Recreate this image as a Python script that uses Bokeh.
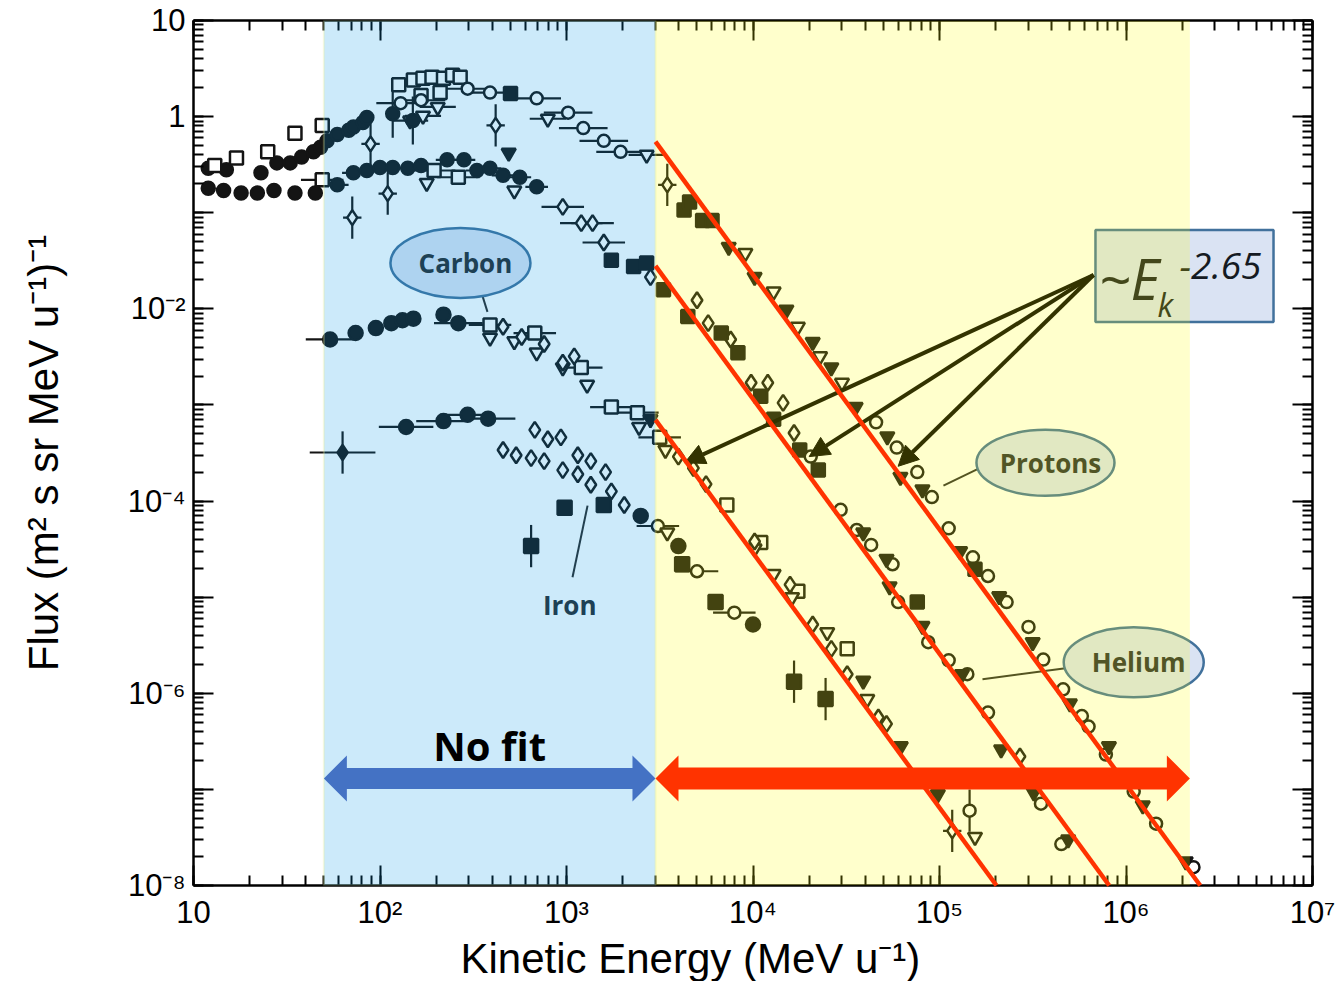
import math

from bokeh.core.properties import value
from bokeh.embed import file_html
from bokeh.models import (Arrow, BoxAnnotation, CustomJSTickFormatter, LogAxis, LogTicker,
                          NormalHead, Title)
from bokeh.plotting import figure
from bokeh.resources import INLINE

# ---------------------------------------------------------------- axis ranges
E_MIN, E_MAX = 10, 1e7            # kinetic energy, MeV/u
FLUX_MIN, FLUX_MAX = 1e-8, 10     # flux, (m^2 s sr MeV/u)^-1

# energy bands
FIT_LOW = 50        # start of the band without a power-law fit
FIT_SPLIT = 3.0e3   # start of the power-law band
FIT_HIGH = 2.2e6    # end of the power-law band

# power-law fits F = norm * (E / FIT_E0) ** SPECTRAL_INDEX
SPECTRAL_INDEX = -2.65
FIT_E0 = 3.0e3
FIT_NORM = [0.55, 0.028, 7.0e-4]   # protons, helium, carbon

# ---------------------------------------------------------------- protons
P_FC_E = [12, 15, 23, 28, 33, 38, 44, 48, 52, 59, 68, 72, 81, 85]
P_FC_F = [0.29, 0.28, 0.26, 0.33, 0.33, 0.38, 0.43, 0.48, 0.56, 0.65, 0.72, 0.78, 0.87, 0.98]
P_OS_E = [13, 17, 25, 35, 49, 126, 151, 166, 170, 190, 210, 219, 245, 269]
P_OS_F = [0.31, 0.37, 0.43, 0.67, 0.81, 2.14, 2.40, 1.66, 2.51, 2.57, 1.78, 2.51, 2.69, 2.57]
P_OC_LO_E = [129, 166, 295, 389, 692, 1020, 1230, 1585, 1950]
P_OC_LO_F = [1.38, 1.48, 1.95, 1.78, 1.55, 1.10, 0.76, 0.56, 0.43]
P_OC_HI_E = [4.57e4, 5.9e4, 7.6e4, 9.1e4, 1.12e5, 1.51e5, 1.82e5, 2.29e5, 3.0e5, 3.6e5,
             4.6e5, 5.8e5, 6.3e5, 7.8e5, 1.10e6, 1.45e6, 2.3e6]
P_OC_HI_F = [6.6e-4, 3.6e-4, 2.0e-4, 1.10e-4, 5.2e-5, 2.6e-5, 1.66e-5, 8.9e-6, 4.9e-6, 2.24e-6,
             1.10e-6, 5.8e-7, 4.5e-7, 2.3e-7, 9.5e-8, 4.4e-8, 1.55e-8]
P_FS_E = [501, 4270, 4570, 5370, 6030, 1.55e5]
P_FS_F = [1.74, 0.107, 0.129, 0.083, 0.083, 1.95e-5]
P_FT_E = [490, 7410, 1.02e4, 1.51e4, 2.09e4, 2.63e4, 3.55e4, 5.25e4, 6.17e4, 8.1e4, 1.29e5,
          2.09e5, 3.16e5, 5.0e5, 8.1e5, 1.23e6, 2.09e6]
P_FT_F = [0.42, 0.044, 0.0214, 0.0098, 0.0045, 0.00245, 9.5e-4, 4.7e-4, 1.78e-4, 1.32e-4, 3.0e-5,
          1.02e-5, 3.4e-6, 7.8e-7, 2.8e-7, 6.8e-8, 1.78e-8]
P_OT_E = [145, 170, 204, 794, 2690, 9100, 1.29e4, 1.74e4, 2.29e4, 3.0e4]
P_OT_F = [0.91, 1.02, 1.26, 0.95, 0.40, 0.038, 0.0151, 0.0065, 0.0032, 0.0017]
P_ERR_E = [117, 150]
P_ERR_F = [1.07, 0.91]
P_CD_E = [417, 3470]
P_CD_F = [0.81, 0.195]

# ---------------------------------------------------------------- helium
H_FC_E = [12, 14.5, 18, 22, 27, 35, 45, 59, 72, 85, 100, 117, 141, 166, 229, 282, 331, 389,
          457, 562, 692]
H_FC_F = [0.18, 0.17, 0.16, 0.16, 0.17, 0.16, 0.16, 0.195, 0.26, 0.275, 0.295, 0.295, 0.29,
          0.31, 0.355, 0.355, 0.275, 0.29, 0.245, 0.234, 0.186]
H_OS_E = [49, 195, 263]
H_OS_F = [0.22, 0.275, 0.234]
H_OT_E = [178, 525]
H_OT_F = [0.204, 0.17]
H_OD_E = [955, 1200, 1380, 1585, 2820, 5010, 5750, 7590, 9770, 1.20e4, 1.45e4, 1.66e4, 2.7e5]
H_OD_F = [0.115, 0.078, 0.078, 0.049, 0.0214, 0.0123, 0.0071, 0.0048, 0.0017, 0.0017,
          0.00105, 5.1e-4, 2.2e-7]
H_FS_E = [1740, 2290, 2690, 3310, 4470, 6760, 8300, 1.10e4, 1.29e4, 1.78e4, 2.24e4, 7.6e4]
H_FS_F = [0.032, 0.0275, 0.030, 0.0158, 0.0083, 0.0056, 0.0035, 0.00123, 7.1e-4, 3.4e-4,
          2.1e-4, 8.9e-6]
H_OC_E = [2.04e4, 2.95e4, 3.6e4, 4.3e4, 5.6e4, 6.0e4, 8.7e4, 1.12e5, 1.41e5, 1.82e5, 3.5e5, 4.5e5]
H_OC_F = [2.9e-4, 8.1e-5, 5.0e-5, 3.5e-5, 2.2e-5, 8.9e-6, 3.4e-6, 2.2e-6, 1.58e-6, 6.3e-7,
          7.1e-8, 2.7e-8]
H_FT_E = [3.9e4, 5.2e4, 5.4e4, 8.1e4, 1.32e5, 2.14e5, 3.2e5, 4.9e5]
H_FT_F = [4.7e-5, 2.5e-5, 1.29e-5, 5.0e-6, 1.58e-6, 2.6e-7, 9.3e-8, 3.0e-8]
H_CD_E = [71, 89, 110]
H_CD_F = [0.089, 0.52, 0.158]

# ---------------------------------------------------------------- carbon
C_FC_E = [54, 74, 95, 115, 132, 151, 219, 263]
C_FC_F = [0.0048, 0.0056, 0.0063, 0.0071, 0.0076, 0.0079, 0.0087, 0.0071]
C_OS_E = [389, 676, 1200, 1740, 2400, 3160, 7240, 1.10e4, 1.74e4, 3.2e4]
C_OS_F = [0.0068, 0.0056, 0.00245, 9.5e-4, 8.3e-4, 4.6e-4, 9.1e-5, 3.7e-5, 1.15e-5, 2.9e-6]
C_OT_E = [389, 525, 692, 955, 1290, 2450, 3390, 1.02e4, 1.29e4, 1.62e4, 2.5e4, 4.1e4, 1.55e5]
C_OT_F = [0.0050, 0.0046, 0.0035, 0.00245, 0.00162, 5.9e-4, 3.4e-4, 3.2e-5, 1.74e-5, 1.0e-5,
          4.3e-6, 8.7e-7, 3.2e-8]
C_OD_E = [457, 575, 759, 955, 1100, 3980, 4790, 5600, 1.02e4, 1.58e4, 2.09e4, 2.63e4, 3.2e4,
          4.7e4, 5.2e4]
C_OD_F = [0.0065, 0.0051, 0.0043, 0.00275, 0.0032, 2.9e-4, 2.2e-4, 1.5e-4, 3.8e-5, 1.35e-5,
          5.2e-6, 2.9e-6, 1.58e-6, 5.6e-7, 4.8e-7]
C_FT_E = [2820, 3.9e4, 6.2e4, 9.8e4]
C_FT_F = [7.1e-4, 1.35e-6, 2.8e-7, 8.9e-8]
C_OC_E = [1.45e5]
C_OC_F = [6.0e-8]
C_CD_E = [1.17e5]
C_CD_F = [3.7e-8]

# ---------------------------------------------------------------- iron
I_FC_E = [138, 219, 295, 380, 2500, 3980, 1.0e4]
I_FC_F = [5.9e-4, 6.8e-4, 7.9e-4, 7.2e-4, 7.0e-5, 3.4e-5, 5.2e-6]
I_OD_E = [457, 537, 646, 676, 759, 794, 933, 955, 1150, 1150, 1350, 1350, 1620, 1740, 2040]
I_OD_F = [3.4e-4, 3.0e-4, 2.8e-4, 5.5e-4, 2.6e-4, 4.4e-4, 4.6e-4, 2.1e-4, 3.0e-4, 1.9e-4,
          2.6e-4, 1.48e-4, 2.0e-4, 1.26e-4, 9.1e-5]
I_FS_E = [977, 1585, 4170, 6300]
I_FS_F = [8.5e-5, 9.1e-5, 2.2e-5, 8.9e-6]
I_FSERR_E = [646, 1.66e4, 2.45e4]
I_FSERR_F = [3.4e-5, 1.32e-6, 8.7e-7]
I_OC_E = [3090, 5010, 7940]
I_OC_F = [5.5e-5, 1.86e-5, 6.9e-6]
I_OT_E = [3470]
I_OT_F = [4.7e-5]
I_CD_E = [63]
I_CD_F = [3.2e-4]

# ---------------------------------------------------------------- tick labels
X_TICK_VALUES = [1e1, 1e2, 1e3, 1e4, 1e5, 1e6, 1e7]
X_TICK_LABELS = ["10", "10\u00b2", "10\u00b3", "10\u2074", "10\u2075", "10\u2076", "10\u2077"]
Y_TICK_VALUES = [1e1, 1e0, 1e-2, 1e-4, 1e-6, 1e-8]
Y_TICK_LABELS = ["10", "1", "10\u207b\u00b2", "10\u207b\u2074", "10\u207b\u2076", "10\u207b\u2078"]

X_TITLE = "Kinetic Energy (MeV u\u207b\u00b9)"
Y_TITLE = "Flux (m\u00b2 s sr MeV u\u207b\u00b9)\u207b\u00b9"

# ---------------------------------------------------------------- layout
W, H = 1340, 981
B_LEFT, B_RIGHT, B_TOP, B_BOTTOM = 193, 28, 20, 96
PX_X = (W - B_LEFT - B_RIGHT) / math.log10(E_MAX / E_MIN)       # px per decade
PX_Y = (H - B_TOP - B_BOTTOM) / math.log10(FLUX_MAX / FLUX_MIN)

AXIS_FONT = "Liberation Sans"
INK = "#141414"
RED = "#ff3300"
BLUE = "#4472c4"
SHAPE_FILL = "#dae3f3"
SHAPE_LINE = "#41719c"
NOTE_TEXT = "#262b30"

p = figure(width=W, height=H, x_axis_type="log", y_axis_type="log",
           x_range=(E_MIN, E_MAX), y_range=(FLUX_MIN, FLUX_MAX),
           output_backend="svg", toolbar_location=None,
           min_border_left=B_LEFT, min_border_right=B_RIGHT,
           min_border_top=B_TOP, min_border_bottom=B_BOTTOM,
           background_fill_color="white", border_fill_color="white")
p.xgrid.visible = False
p.ygrid.visible = False
p.outline_line_color = None

p.add_layout(LogAxis(), "above")
p.add_layout(LogAxis(), "right")


def decade_labels(values, labels):
    exps = [round(math.log10(v)) for v in values]
    return CustomJSTickFormatter(args=dict(exps=exps, labels=labels), code="""
        const i = exps.indexOf(Math.round(Math.log10(tick)));
        return i >= 0 ? labels[i] : "";
    """)


for ax in p.xaxis + p.yaxis:
    ax.ticker = LogTicker(num_minor_ticks=10)
    ax.axis_line_color = "black"
    ax.axis_line_width = 2.5
    ax.major_tick_in = 20
    ax.major_tick_out = 0
    ax.minor_tick_in = 10
    ax.minor_tick_out = 0
    ax.major_tick_line_width = 2
    ax.minor_tick_line_width = 2
    ax.major_tick_line_color = "black"
    ax.minor_tick_line_color = "black"
    ax.major_label_text_font = AXIS_FONT
    ax.major_label_text_font_size = "31px"
    ax.major_label_text_color = "black"
    ax.formatter = CustomJSTickFormatter(code="return ''")

for ax in p.above + p.right:
    ax.major_label_text_font_size = "0px"

xax, yax = p.below[0], p.left[0]
xax.formatter = decade_labels(X_TICK_VALUES, X_TICK_LABELS)
xax.major_label_standoff = 9
yax.formatter = decade_labels(Y_TICK_VALUES, Y_TICK_LABELS)
yax.major_label_standoff = 8
yax.axis_label = Y_TITLE
yax.axis_label_text_font = AXIS_FONT
yax.axis_label_text_font_size = "42px"
yax.axis_label_text_font_style = "normal"
yax.axis_label_text_color = "black"
yax.axis_label_standoff = 58

p.add_layout(Title(text=X_TITLE, align="left", offset=267, standoff=0,
                   text_font=AXIS_FONT, text_font_size="42px", text_font_style="normal",
                   text_color="black"), "below")

# ---------------------------------------------------------------- data points
HBAR = 1.3          # half-width factor of energy-bin bars
VBAR = 10 ** 0.22   # half-height factor of flux error bars


def hbars(E, F, k=HBAR):
    p.segment(x0=[e / k for e in E], y0=F, x1=[e * k for e in E], y1=F,
              line_color=INK, line_width=2.2)


def vbars(E, F, k=VBAR):
    p.segment(x0=E, y0=[f / k for f in F], x1=E, y1=[f * k for f in F],
              line_color=INK, line_width=2.2)


def points(E, F, marker, filled, size=13):
    p.scatter(x=E, y=F, marker=marker, size=size,
              fill_color=INK if filled else "white", line_color=INK, line_width=2.5)


# energy-bin bars and error bars
hbars(P_OC_LO_E, P_OC_LO_F, 1.35)
hbars(P_OT_E[:5], P_OT_F[:5], 1.25)
hbars(H_OS_E, H_OS_F)
hbars(H_FC_E[7:], H_FC_F[7:], 1.15)
hbars(H_OD_E[:4], H_OD_F[:4], 1.3)
hbars(C_FC_E[:1] + C_FC_E[-1:], C_FC_F[:1] + C_FC_F[-1:], 1.35)
hbars(C_OS_E[:6], C_OS_F[:6], 1.3)
hbars(I_FC_E[:4], I_FC_F[:4], 1.4)
hbars(I_CD_E, I_CD_F, 1.5)
hbars(I_OC_E, I_OC_F, 1.3)
hbars(P_CD_E + H_CD_E + C_CD_E, P_CD_F + H_CD_F + C_CD_F, 1.12)
vbars(P_CD_E + H_CD_E + C_CD_E + I_CD_E, P_CD_F + H_CD_F + C_CD_F + I_CD_F)
vbars(P_ERR_E, P_ERR_F, 10 ** 0.25)
vbars(I_FSERR_E, I_FSERR_F, 10 ** 0.22)
vbars(C_OC_E, C_OC_F, 10 ** 0.22)

# protons
points(P_FC_E, P_FC_F, "circle", True)
points(P_OS_E, P_OS_F, "square", False)
points(P_OC_LO_E + P_OC_HI_E, P_OC_LO_F + P_OC_HI_F, "circle", False, 12)
points(P_FS_E, P_FS_F, "square", True)
points(P_FT_E, P_FT_F, "inverted_triangle", True, 14)
points(P_OT_E, P_OT_F, "inverted_triangle", False, 14)
points(P_ERR_E, P_ERR_F, "circle", True)
points(P_CD_E, P_CD_F, "diamond", False, 15)
# helium
points(H_FC_E, H_FC_F, "circle", True)
points(H_OS_E, H_OS_F, "square", False)
points(H_OT_E, H_OT_F, "inverted_triangle", False, 14)
points(H_OD_E, H_OD_F, "diamond", False, 16)
points(H_FS_E, H_FS_F, "square", True)
points(H_OC_E, H_OC_F, "circle", False, 12)
points(H_FT_E, H_FT_F, "inverted_triangle", True, 14)
points(H_CD_E, H_CD_F, "diamond", False, 15)
# carbon
points(C_FC_E, C_FC_F, "circle", True, 14)
points(C_OS_E, C_OS_F, "square", False)
points(C_OT_E, C_OT_F, "inverted_triangle", False, 14)
points(C_OD_E, C_OD_F, "diamond", False, 16)
points(C_FT_E, C_FT_F, "inverted_triangle", True, 14)
points(C_OC_E, C_OC_F, "circle", False, 12)
points(C_CD_E, C_CD_F, "diamond", False, 15)
# iron
points(I_FC_E, I_FC_F, "circle", True, 14)
points(I_OD_E, I_OD_F, "diamond", False, 16)
points(I_FS_E, I_FS_F, "square", True, 14)
points(I_FSERR_E, I_FSERR_F, "square", True, 14)
points(I_OC_E, I_OC_F, "circle", False, 12)
points(I_OT_E, I_OT_F, "inverted_triangle", False, 14)
points(I_CD_E, I_CD_F, "diamond", True, 15)


# ---------------------------------------------------------------- species call-outs
def note(x, y, txt, size, color=NOTE_TEXT, style="bold", align="center",
         baseline="middle", xo=0, yo=0, font="Open Sans", level="glyph"):
    p.text(x=[x], y=[y], text=[txt], text_font=value(font), text_font_size=f"{size}px",
           text_font_style=style, text_color=color, text_align=align,
           text_baseline=baseline, x_offset=xo, y_offset=yo, level=level)


CALLOUTS = [  # name, ellipse centre (E, F), ellipse px size, pointer from, pointer to
    ("Carbon", (270, 0.030), (140, 70), (337, 0.0186), (377, 0.0093)),
    ("Protons", (3.7e5, 2.5e-4), (138, 66), (1.62e5, 2.18e-4), (1.05e5, 1.45e-4)),
    ("Helium", (1.10e6, 2.1e-6), (140, 70), (4.74e5, 1.82e-6), (1.70e5, 1.40e-6)),
]
for name, (ex, ey), (ew, eh), (ax0, ay0), (ax1, ay1) in CALLOUTS:
    p.segment(x0=[ax0], y0=[ay0], x1=[ax1], y1=[ay1], line_color="#2a2a2a", line_width=2)
    p.ellipse(x=[ex], y=[ey], width=ew, height=eh, width_units="screen",
              height_units="screen", fill_color=SHAPE_FILL, line_color=SHAPE_LINE,
              line_width=2.5)
    note(ex, ey, name, 26, xo=5)

IRON_AT = (1040, 8.2e-6)
p.segment(x0=[1077], y0=[1.61e-5], x1=[1297], y1=[8.97e-5], line_color="#2a2a2a", line_width=2)
note(IRON_AT[0], IRON_AT[1], "Iron", 26)

# power-law label box
BOX_L, BOX_R, BOX_T, BOX_B = 6.86e5, 6.18e6, 0.066, 0.0073
p.quad(left=[BOX_L], right=[BOX_R], top=[BOX_T], bottom=[BOX_B],
       fill_color=SHAPE_FILL, line_color=SHAPE_LINE, line_width=2.5)
BOX_MID = math.sqrt(BOX_T * BOX_B)
note(BOX_L, BOX_MID, "~E", 56, color="#141a22", style="italic", align="left", xo=3, yo=2)
note(BOX_L, BOX_MID, "k", 32, color="#141a22", style="italic", align="left",
     baseline="alphabetic", xo=62, yo=28)
note(BOX_L, BOX_MID, "-2.65", 37, color="#141a22", style="italic", align="left", xo=84, yo=-10)

# arrows from the label box to the three fitted spectra
ARROW_FROM = (6.7e5, 0.0225)
ARROW_TO_E = [4.3e3, 2.0e4, 6.0e4]
ARROW_TO_F = [2.5e-4, 2.9e-4, 2.3e-4]
for e, f in zip(ARROW_TO_E, ARROW_TO_F):
    p.add_layout(Arrow(x_start=ARROW_FROM[0], y_start=ARROW_FROM[1], x_end=e, y_end=f,
                       line_color="black", line_width=4,
                       end=NormalHead(size=20, fill_color="black", line_color="black")))

# ---------------------------------------------------------------- translucent bands
p.add_layout(BoxAnnotation(left=FIT_LOW, right=FIT_SPLIT, fill_color=(0, 150, 230),
                           fill_alpha=0.2, line_color="#e8ee9c", line_width=2))
p.add_layout(BoxAnnotation(left=FIT_SPLIT, right=FIT_HIGH, fill_color=(255, 255, 0),
                           fill_alpha=0.2, line_color=None))

# ---------------------------------------------------------------- fits and band arrows
for f0 in FIT_NORM:
    e_end = FIT_E0 * (f0 / FLUX_MIN) ** (1 / -SPECTRAL_INDEX)
    es = [FIT_E0, e_end]
    p.line(es, [f0 * (e / FIT_E0) ** SPECTRAL_INDEX for e in es],
           line_color=RED, line_width=4.5, level="overlay")

ARROW_FLUX = 1.3e-7


def double_arrow(e0, e1, f, shaft_px=21, head_px=46, head_len_px=23):
    kx = 10 ** (head_len_px / PX_X)
    ks = 10 ** (shaft_px / 2 / PX_Y)
    kh = 10 ** (head_px / 2 / PX_Y)
    xs = [e0, e0 * kx, e0 * kx, e1 / kx, e1 / kx, e1, e1 / kx, e1 / kx, e0 * kx, e0 * kx]
    ys = [f, f * kh, f * ks, f * ks, f * kh, f, f / kh, f / ks, f / ks, f / kh]
    return xs, ys


bx, by = double_arrow(FIT_LOW, FIT_SPLIT, ARROW_FLUX)
p.patch(bx, by, fill_color=BLUE, line_color=None, level="overlay")
rx, ry = double_arrow(FIT_SPLIT, FIT_HIGH, ARROW_FLUX, shaft_px=22)
p.patch(rx, ry, fill_color=RED, line_color=None, level="overlay")
note(math.sqrt(FIT_LOW * FIT_SPLIT), ARROW_FLUX, "No fit", 40, color="black",
     yo=-33, level="overlay")

open("out.html", "w").write(file_html(p, INLINE))
